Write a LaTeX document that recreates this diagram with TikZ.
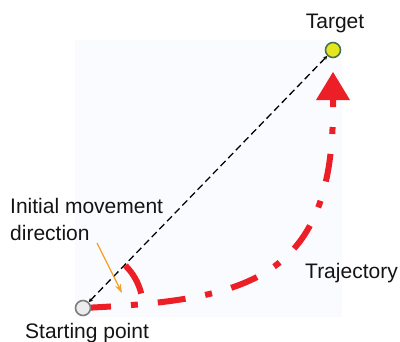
\documentclass[tikz,border=0pt]{standalone}
\usepackage{fontspec}
\setmainfont{Liberation Sans}
\usetikzlibrary{arrows.meta,calc,backgrounds}
\definecolor{trajred}{RGB}{236,30,38}
\definecolor{bgpanel}{RGB}{250,251,255}
\definecolor{arroworange}{RGB}{245,160,30}
\definecolor{targetfill}{RGB}{230,230,30}
\definecolor{targetdraw}{RGB}{75,115,85}
\definecolor{startfill}{RGB}{236,236,236}
\definecolor{startdraw}{RGB}{125,125,125}
\begin{document}
\begin{tikzpicture}[x=1pt,y=-1pt,
  lbl/.style={font=\fontsize{21}{27}\selectfont, inner sep=0pt, text=black!92},
  pointmark/.style={circle, minimum size=15pt, inner sep=0pt, line width=1.6pt},
  traj/.style={draw=trajred, line width=6pt, dash pattern=on 28pt off 20pt on 7pt off 20pt,
    -{Triangle[length=28pt,width=34pt,line width=0pt]}},
  angarc/.style={draw=trajred, line width=6pt},
  guide/.style={draw=black, line width=1.3pt, dash pattern=on 7pt off 4pt,
    {Stealth[length=4pt,width=4pt]}-{Stealth[length=4pt,width=4pt]}},
  pointer/.style={draw=arroworange, line width=1.2pt, -{Stealth[length=9pt,width=6pt]}}]
\useasboundingbox (0,0) rectangle (400,341);

% points
\node[pointmark, fill=startfill, draw=startdraw] (s) at (83,308) {};
\node[pointmark, fill=targetfill, draw=targetdraw] (t) at (333,50) {};
\coordinate (tip) at (333,72);
\coordinate (tailbase) at (333,100);
\coordinate (pstart) at (97,243);
\coordinate (pend) at (122,293);

\begin{pgfonlayer}{background}
  \fill[bgpanel] (75,40) rectangle (342,317);
  \draw[traj] (s.center) .. controls (250,300) and (335,280) .. (tailbase) -- (tip);
\end{pgfonlayer}

% straight guide line
\draw[guide] (s) -- (t);

% angle arc
\draw[angarc] ($(s.center)+(-45:60)$) arc[start angle=-45, end angle=-14, radius=60];

% labels
\node[lbl, anchor=base] (tl) at (335,28) {Target};
\node[lbl, anchor=north west, align=left] (il) at (10,198) {Initial movement\\direction};
\node[lbl, anchor=base west] (trl) at (305,278) {Trajectory};
\node[lbl, anchor=base west] (sl) at (25,338) {Starting point};

% orange pointer
\draw[pointer] (pstart) -- (pend);
\end{tikzpicture}
\end{document}
